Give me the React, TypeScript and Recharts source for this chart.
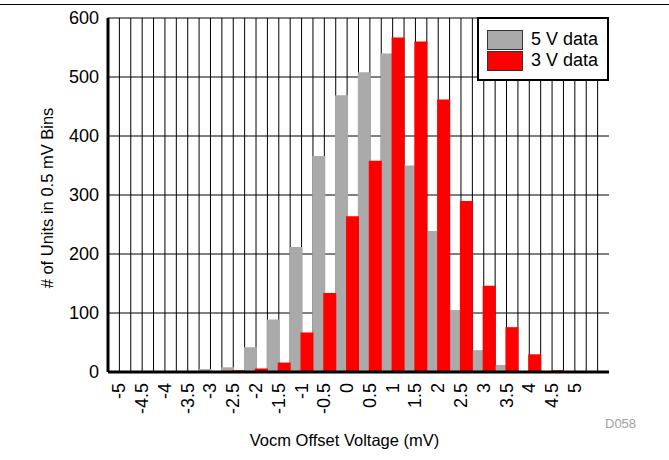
import React from 'react'
import {
  BarChart,
  Bar,
  XAxis,
  YAxis,
  CartesianGrid,
} from 'recharts'

// 0.5 mV histogram bins; the last bin is left unlabeled
const bins = [
  '-5', '-4.5', '-4', '-3.5', '-3', '-2.5', '-2', '-1.5', '-1', '-0.5', '0',
  '0.5', '1', '1.5', '2', '2.5', '3', '3.5', '4', '4.5', '5', '5.5',
]
const tickLabels = bins.slice(0, 21)

const units5V = [0, 0, 0, 0, 5, 8, 42, 89, 212, 366, 469, 508, 540, 350, 239, 105, 37, 12, 0, 0, 0, 0]
const units3V = [0, 0, 0, 0, 0, 3, 6, 16, 67, 134, 264, 358, 567, 560, 462, 290, 146, 76, 30, 3, 1, 0]

const yTicks = [0, 100, 200, 300, 400, 500, 600]

const series = [
  { key: 'v5', name: '5 V data', color: '#aaaaaa' },
  { key: 'v3', name: '3 V data', color: '#ff0000' },
]

const data = bins.map((bin, i) => ({ bin, v5: units5V[i], v3: units3V[i] }))

const FONT = "'Liberation Sans', Arial, sans-serif"

const W = 669
const H = 460

function BinTick(props: any) {
  const { x, y, payload } = props
  if (!tickLabels.includes(payload.value)) return <g />
  return (
    <text
      x={x}
      y={y}
      transform={`rotate(-90, ${x}, ${y})`}
      textAnchor="end"
      dominantBaseline="central"
      fontSize={18}
      fontFamily={FONT}
      fill="#000"
    >
      {payload.value}
    </text>
  )
}

// grid lines at every bin edge and bin centre
function halfBinLines({ offset }: any) {
  const lines: number[] = []
  const n = bins.length * 2
  for (let i = 1; i < n; i++) lines.push(offset.left + (offset.width * i) / n)
  return lines
}

export default function App() {
  return (
    <div style={{ position: 'absolute', left: 0, top: 0, width: W, height: H, background: '#fff', fontFamily: FONT }}>
      <div style={{ position: 'absolute', left: 0, top: 4, width: W, height: 1, background: '#000' }} />
      <BarChart
        width={W}
        height={H}
        data={data}
        margin={{ top: 18, right: 60, left: 0, bottom: 0 }}
        barCategoryGap={-0.7}
        barGap={-2}
      >
        <CartesianGrid
          stroke="#000"
          strokeWidth={1}
          verticalCoordinatesGenerator={halfBinLines}
        />
        <XAxis
          dataKey="bin"
          interval={0}
          height={88}
          tickLine={false}
          tickSize={0}
          tickMargin={11}
          tick={<BinTick />}
          axisLine={{ stroke: '#000', strokeWidth: 3 }}
          label={{
            value: 'Vocm Offset Voltage (mV)',
            position: 'insideBottom',
            offset: 14,
            dx: -14,
            fontSize: 16.5,
            fontFamily: FONT,
            fill: '#000',
          }}
        />
        <XAxis
          xAxisId="top"
          dataKey="bin"
          orientation="top"
          height={0}
          tick={false}
          tickLine={false}
          axisLine={{ stroke: '#000', strokeWidth: 3 }}
        />
        <YAxis
          domain={[0, 600]}
          ticks={yTicks}
          width={108}
          tickLine={false}
          tickSize={0}
          tickMargin={9}
          tick={{ fontSize: 18, fontFamily: FONT, fill: '#000' }}
          axisLine={{ stroke: '#000', strokeWidth: 3 }}
          label={{
            value: '# of Units in 0.5 mV Bins',
            angle: -90,
            position: 'center',
            dx: -7,
            dy: 3,
            fontSize: 16.5,
            fontFamily: FONT,
            fill: '#000',
          }}
        />
        <YAxis
          yAxisId="right"
          orientation="right"
          domain={[0, 600]}
          width={0}
          tick={false}
          tickLine={false}
          axisLine={{ stroke: '#000', strokeWidth: 3 }}
        />
        {series.map((s) => (
          <Bar key={s.key} dataKey={s.key} name={s.name} fill={s.color} isAnimationActive={false} />
        ))}
      </BarChart>

      {/* legend box in the top-right corner of the plot */}
      <div
        style={{
          position: 'absolute',
          left: 477,
          top: 17,
          width: 128,
          height: 60,
          background: '#fff',
          border: '2px solid #000',
        }}
      >
        {series.map((s, i) => (
          <div key={s.key} style={{ position: 'absolute', left: 8, top: 10 + i * 21, height: 21, display: 'flex', alignItems: 'center' }}>
            <div style={{ width: 36, height: 20, background: s.color, border: '1px solid #333', boxSizing: 'border-box' }} />
            <span style={{ marginLeft: 8, fontSize: 18, lineHeight: '21px', color: '#000' }}>{s.name}</span>
          </div>
        ))}
      </div>

      <div style={{ position: 'absolute', left: 605, top: 416, fontSize: 13, color: '#a0a0a0' }}>D058</div>
    </div>
  )
}
